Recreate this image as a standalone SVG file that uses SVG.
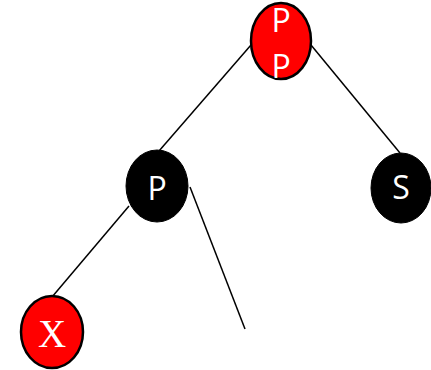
<svg xmlns="http://www.w3.org/2000/svg" width="431" height="370" viewBox="0 0 431 370">
<style>
.edge{stroke:#000;stroke-width:1.5;fill:none}
.red{fill:#f00;stroke:#000;stroke-width:2.5}
.blk{fill:#000;stroke:#000;stroke-width:1}
.lbl{fill:#fff;font-family:"Open Sans","DejaVu Sans",sans-serif;font-size:32px;text-anchor:middle}
.ser{fill:#fff;font-family:"Liberation Serif",serif;font-size:39px;text-anchor:middle}
</style>
<rect width="431" height="370" fill="#fff"/>
<g id="connectors">
<line class="edge" x1="251" y1="45" x2="159" y2="151"/>
<line class="edge" x1="311" y1="45" x2="400" y2="153"/>
<line class="edge" x1="129" y1="206" x2="52" y2="297"/>
<line class="edge" x1="190" y1="187" x2="245" y2="329"/>
</g>
<g id="node-pp">
<ellipse class="red" cx="281" cy="41" rx="30" ry="38"/>
<text class="lbl" x="281" y="32">P</text>
<text class="lbl" x="281" y="78">P</text>
</g>
<g id="node-p">
<ellipse class="blk" cx="157" cy="186" rx="31" ry="36"/>
<text class="lbl" x="157" y="200">P</text>
</g>
<g id="node-s">
<ellipse class="blk" cx="401" cy="188" rx="30" ry="35"/>
<text class="lbl" x="401" y="199">S</text>
</g>
<g id="node-x">
<ellipse class="red" cx="52" cy="332" rx="31" ry="36"/>
<text class="ser" x="52" y="347">X</text>
</g>
</svg>
